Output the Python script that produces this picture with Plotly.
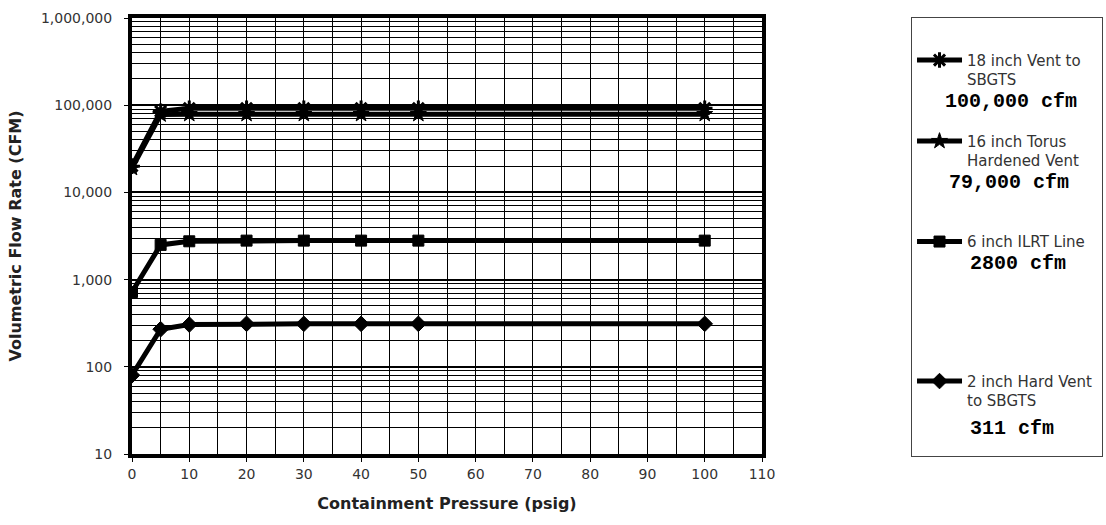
import plotly.graph_objects as go

pressure = [0, 5, 10, 20, 30, 40, 50, 100]
vent18 = [20000, 85000, 92000, 92000, 92000, 92000, 92000, 92000]
vent16 = [19000, 78000, 79000, 79000, 79000, 79000, 79000, 79000]
ilrt6 = [720, 2500, 2750, 2800, 2800, 2800, 2800, 2800]
hard2 = [80, 270, 305, 311, 311, 311, 311, 311]

descriptions = [
    "18 inch Vent to<br>SBGTS",
    "16 inch Torus<br>Hardened Vent",
    "6 inch ILRT Line",
    "2 inch Hard Vent&nbsp;<br>to SBGTS",
]
capacities = ["100,000 cfm", "79,000 cfm", "2800 cfm", "311 cfm"]
# blank lines reserved under each description (capacity line + spacing)
pad_lines = [2, 3, 6, 2]
# capacity label placement (paper coords)
cap_x = [1.287, 1.293, 1.327, 1.327]
cap_y = [0.8096, 0.6216, 0.4358, 0.0596]

series = [vent18, vent16, ilrt6, hard2]
symbols = ["asterisk-open", "star", "square", "diamond"]
sizes = [13, 12, 11, 12]

yticks = [10, 100, 1000, 10000, 100000, 1000000]
yticktext = ["10", "100", "1,000", "10,000", "100,000", "1,000,000"]
yminor = [m * 10 ** d for d in range(1, 6) for m in range(2, 10)]
xticks = list(range(0, 111, 10))

fig = go.Figure()
for i, (desc, ys, sym, sz, pad) in enumerate(zip(descriptions, series, symbols, sizes, pad_lines)):
    fig.add_trace(go.Scatter(
        x=pressure, y=ys, name=desc + "<br>&nbsp;" * pad, mode="lines+markers",
        line=dict(color="black", width=5),
        marker=dict(symbol=sym, size=sz, color="black",
                    line=dict(color="black", width=3 if sym == "asterisk-open" else 1)),
        legendgroup=str(i),
    ))

for txt, xx, yy in zip(capacities, cap_x, cap_y):
    fig.add_annotation(
        text="<b>" + txt + "</b>", xref="paper", yref="paper", x=xx, y=yy,
        xanchor="left", yanchor="middle", showarrow=False,
        font=dict(family="Liberation Mono, Courier New, monospace", size=20, color="black"),
    )

fig.update_layout(
    width=1106, height=525,
    paper_bgcolor="white", plot_bgcolor="white",
    margin=dict(l=132, r=344, t=18, b=71),
    font=dict(family="DejaVu Sans", size=13, color="#222"),
    showlegend=True,
    legend=dict(
        xref="container", yref="container",
        x=0.8237, y=0.968, xanchor="left", yanchor="top",
        bordercolor="#444", borderwidth=1, bgcolor="rgba(0,0,0,0)",
        valign="top", tracegroupgap=0, maxheight=520,
        font=dict(family="DejaVu Sans", size=15, color="#333"),
        title=dict(text="&nbsp;", font=dict(size=20)),
        itemwidth=45,
    ),
)
fig.update_xaxes(
    range=[0, 110], tickvals=xticks, ticks="outside", ticklen=4, tickcolor="black",
    showline=True, linecolor="black", linewidth=4, mirror=True,
    showgrid=True, gridcolor="black", gridwidth=1.3, zeroline=False,
    minor=dict(dtick=5, showgrid=True, gridcolor="black", gridwidth=1.3),
    tickfont=dict(family="DejaVu Sans", size=14, color="#333"),
    ticklabelstandoff=0, automargin=False,
    title=dict(text="<b>Containment Pressure (psig)</b>",
               font=dict(family="DejaVu Sans", size=16, color="#222"), standoff=18),
)
fig.update_yaxes(
    type="log", range=[1, 6], tickvals=yticks, ticktext=yticktext,
    ticks="outside", ticklen=4, tickcolor="black",
    showline=True, linecolor="black", linewidth=4, mirror=True,
    showgrid=True, gridcolor="black", gridwidth=1.5, zeroline=False,
    minor=dict(tickvals=yminor, showgrid=True, gridcolor="black", gridwidth=1, ticks=""),
    tickfont=dict(family="DejaVu Sans", size=14, color="#333"),
    ticklabelstandoff=9, automargin=False,
    title=dict(text="<b>Volumetric Flow Rate (CFM)</b>",
               font=dict(family="DejaVu Sans", size=16, color="#222"), standoff=16),
)

fig.write_html("out.html", config={"displayModeBar": False},
               post_script="document.body.style.margin='0';")
